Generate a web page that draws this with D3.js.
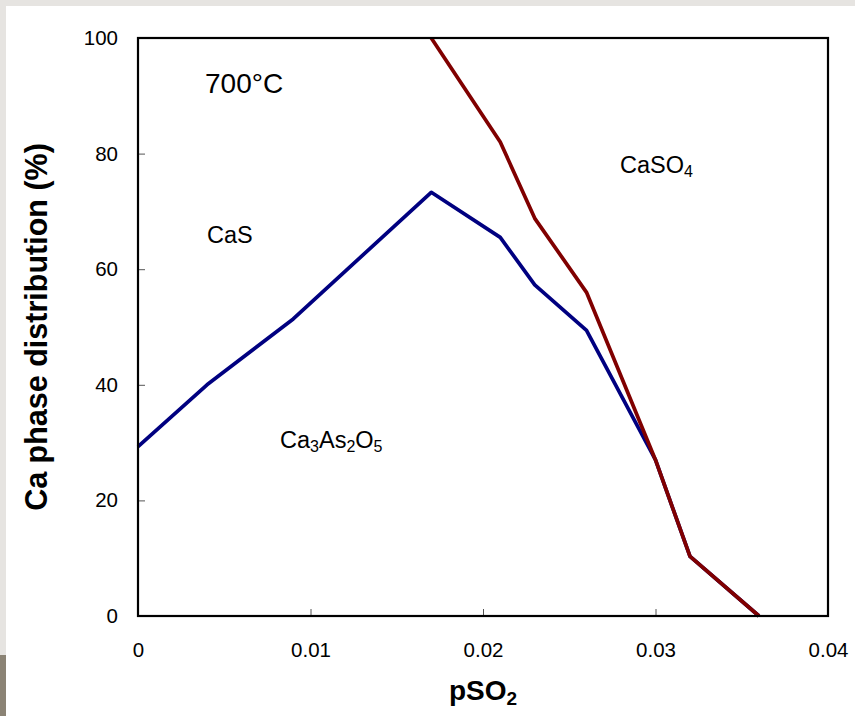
<!DOCTYPE html>
<html>
<head>
<meta charset="utf-8">
<script src="https://cdn.jsdelivr.net/npm/d3@7"></script>
<style>
  html, body { margin: 0; padding: 0; background: #fff; }
  svg { display: block; }
  text { font-family: "Liberation Sans", Arial, Helvetica, sans-serif; fill: #000; }
</style>
</head>
<body>
<script>
// ---- data ----
const xTicks = [0, 0.01, 0.02, 0.03, 0.04];
const xTickLabels = ["0", "0.01", "0.02", "0.03", "0.04"];
const yTicks = [0, 20, 40, 60, 80, 100];
const yTickLabels = ["0", "20", "40", "60", "80", "100"];

// Boundary between Ca3As2O5 and CaS (blue)
const blueX = [0, 0.004, 0.009, 0.017, 0.021, 0.023, 0.026, 0.030, 0.032, 0.036];
const blueY = [29.3, 40, 51.4, 73.3, 65.5, 57.3, 49.4, 27, 10.3, 0];
// Boundary between CaS and CaSO4 (red)
const redX = [0.017, 0.021, 0.023, 0.026, 0.030, 0.032, 0.036];
const redY = [100, 82, 68.8, 56, 27, 10.3, 0];

// ---- layout ----
const W = 855, H = 716;
const mL = 138, mR = 828, mT = 38, mB = 616;

const svg = d3.select("body").append("svg").attr("width", W).attr("height", H);

// page decoration strips
svg.append("rect").attr("x", 0).attr("y", 0).attr("width", W).attr("height", 6).attr("fill", "#e6e4e1");
svg.append("rect").attr("x", 0).attr("y", 0).attr("width", 6).attr("height", 655).attr("fill", "#e6e4e1");
svg.append("rect").attr("x", 0).attr("y", 655).attr("width", 6).attr("height", H - 655).attr("fill", "#8b8375");

const x = d3.scaleLinear().domain([0, 0.04]).range([mL, mR]);
const y = d3.scaleLinear().domain([0, 100]).range([mB, mT]);

// axes (inside ticks)
const xAxis = d3.axisBottom(x).tickValues(xTicks).tickSizeInner(-7).tickSizeOuter(0)
  .tickPadding(26).tickFormat((d, i) => xTickLabels[i]);
const yAxis = d3.axisLeft(y).tickValues(yTicks).tickSizeInner(-7).tickSizeOuter(0)
  .tickPadding(20).tickFormat((d, i) => yTickLabels[i]);

const gx = svg.append("g").attr("transform", `translate(0,${mB})`).call(xAxis);
const gy = svg.append("g").attr("transform", `translate(${mL},0)`).call(yAxis);
[gx, gy].forEach(g => {
  g.select(".domain").remove();
  g.selectAll(".tick line").attr("stroke", "#555").attr("stroke-width", 1);
  g.selectAll(".tick text").attr("font-size", 20.5).attr("font-family", "Liberation Sans, Arial, sans-serif").attr("fill", "#000");
});

// lines
const line = d3.line().x(d => x(d[0])).y(d => y(d[1]));
const bluePts = blueX.map((v, i) => [v, blueY[i]]);
const redPts = redX.map((v, i) => [v, redY[i]]);

svg.append("path").datum(bluePts).attr("d", line)
  .attr("fill", "none").attr("stroke", "#000080").attr("stroke-width", 3.7).attr("stroke-linejoin", "round");
svg.append("path").datum(redPts).attr("d", line)
  .attr("fill", "none").attr("stroke", "#800000").attr("stroke-width", 3.7).attr("stroke-linejoin", "round");

// frame
svg.append("rect").attr("x", mL).attr("y", mT).attr("width", mR - mL).attr("height", mB - mT)
  .attr("fill", "none").attr("stroke", "#000").attr("stroke-width", 2.2);

// annotations
svg.append("text").attr("x", 205).attr("y", 93).attr("font-size", 28).text("700°C");
svg.append("text").attr("x", 207).attr("y", 243).attr("font-size", 23.5).text("CaS");

const t1 = svg.append("text").attr("x", 280).attr("y", 448).attr("font-size", 23.5);
t1.append("tspan").text("Ca");
t1.append("tspan").attr("font-size", 16).attr("dy", 4).text("3");
t1.append("tspan").attr("dy", -4).text("As");
t1.append("tspan").attr("font-size", 16).attr("dy", 4).text("2");
t1.append("tspan").attr("dy", -4).text("O");
t1.append("tspan").attr("font-size", 16).attr("dy", 4).text("5");

const t2 = svg.append("text").attr("x", 620).attr("y", 173).attr("font-size", 23.5);
t2.append("tspan").text("CaSO");
t2.append("tspan").attr("font-size", 16).attr("dy", 4).text("4");

// axis titles
const xt = svg.append("text").attr("x", 483).attr("y", 700)
  .attr("text-anchor", "middle").attr("font-size", 28).attr("font-weight", "bold");
xt.append("tspan").text("pSO");
xt.append("tspan").attr("font-size", 19).attr("dy", 5).text("2");

svg.append("text").attr("transform", `translate(47,${(mT + mB) / 2}) rotate(-90)`)
  .attr("text-anchor", "middle").attr("font-size", 30.5).attr("font-weight", "bold")
  .text("Ca phase distribution (%)");
</script>
</body>
</html>
